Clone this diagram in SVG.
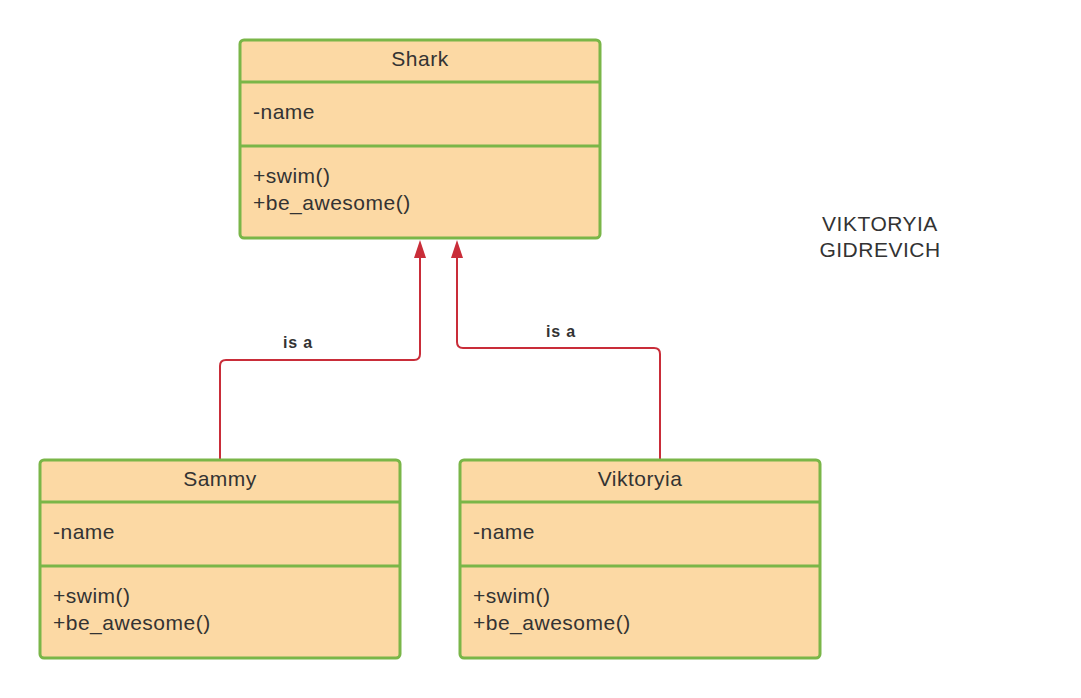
<svg xmlns="http://www.w3.org/2000/svg" width="1081" height="698" viewBox="0 0 1081 698">
<style>
.box{fill:#fcd9a4;stroke:#7ab648;stroke-width:3}
.div{stroke:#7ab648;stroke-width:3}
.t{font-family:"Liberation Sans",Arial,sans-serif;font-size:21px;letter-spacing:0.5px;fill:#333333}
.c{text-anchor:middle}
.lbl{font-family:"Liberation Sans",Arial,sans-serif;font-size:16px;letter-spacing:0.8px;font-weight:bold;fill:#333333;text-anchor:middle}
.edge{fill:none;stroke:#c92d39;stroke-width:2}
</style>
<defs>
<marker id="arr" markerWidth="18" markerHeight="12" refX="8" refY="6" orient="auto" markerUnits="userSpaceOnUse" viewBox="0 0 18 12">
<path d="M0,0 L18,6 L0,12 Z" fill="#c92d39"/>
</marker>
</defs>
<rect width="1081" height="698" fill="#ffffff"/>
<g id="connectors">
<path class="edge" d="M220,460 V366 Q220,360 226,360 H414 Q420,360 420,354 V250" marker-end="url(#arr)"/>
<path class="edge" d="M660,460 V354 Q660,348 654,348 H463 Q457,348 457,342 V250" marker-end="url(#arr)"/>
<text class="lbl" x="298" y="348">is a</text>
<text class="lbl" x="561" y="337">is a</text>
</g>
<g id="shark">
<rect class="box" x="240" y="40" width="360" height="198" rx="4"/>
<line class="div" x1="240" y1="82" x2="600" y2="82"/>
<line class="div" x1="240" y1="146" x2="600" y2="146"/>
<text class="t c" x="420" y="66">Shark</text>
<text class="t" x="253" y="119">-name</text>
<text class="t" x="253" y="183">+swim()</text>
<text class="t" x="253" y="210">+be_awesome()</text>
</g>
<g id="sammy">
<rect class="box" x="40" y="460" width="360" height="198" rx="4"/>
<line class="div" x1="40" y1="502" x2="400" y2="502"/>
<line class="div" x1="40" y1="566" x2="400" y2="566"/>
<text class="t c" x="220" y="486">Sammy</text>
<text class="t" x="53" y="539">-name</text>
<text class="t" x="53" y="603">+swim()</text>
<text class="t" x="53" y="630">+be_awesome()</text>
</g>
<g id="viktoryia">
<rect class="box" x="460" y="460" width="360" height="198" rx="4"/>
<line class="div" x1="460" y1="502" x2="820" y2="502"/>
<line class="div" x1="460" y1="566" x2="820" y2="566"/>
<text class="t c" x="640" y="486">Viktoryia</text>
<text class="t" x="473" y="539">-name</text>
<text class="t" x="473" y="603">+swim()</text>
<text class="t" x="473" y="630">+be_awesome()</text>
</g>
<g id="author">
<text class="t c" x="880" y="231">VIKTORYIA</text>
<text class="t c" x="880" y="257">GIDREVICH</text>
</g>
</svg>
